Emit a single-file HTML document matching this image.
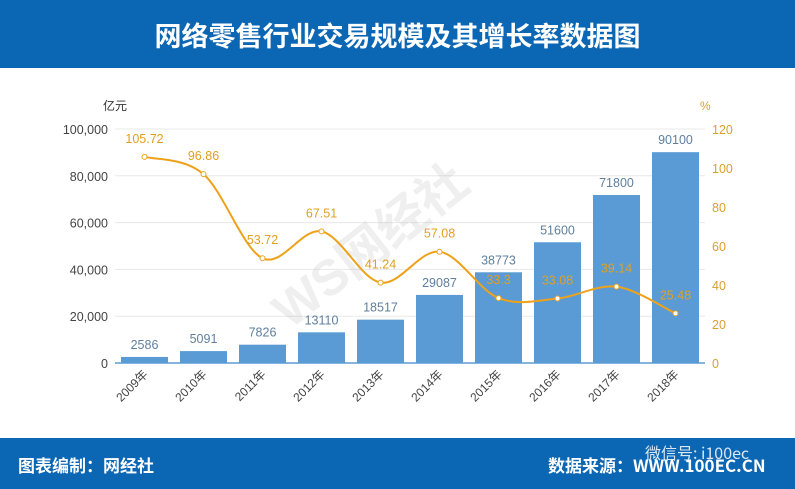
<!DOCTYPE html>
<html><head><meta charset="utf-8">
<style>
body{margin:0;width:795px;height:489px;overflow:hidden;background:#fff;font-family:"Liberation Sans","Noto Sans CJK SC",sans-serif;}
#hdr{position:absolute;left:0;top:0;width:795px;height:68px;background:#0b66b4;color:#fff;font-size:27px;font-weight:bold;text-align:center;line-height:70px;font-family:"Noto Sans CJK SC",sans-serif;}
#ftr{position:absolute;left:0;top:438px;width:795px;height:51px;background:#0b66b4;color:#fff;font-weight:bold;font-size:17px;font-family:"Noto Sans CJK SC",sans-serif;}
</style></head><body>
<div id="hdr">网络零售行业交易规模及其增长率数据图</div>
<svg id="c" width="795" height="489" style="position:absolute;left:0;top:0"></svg>
<div id="ftr">
<span style="position:absolute;left:18px;top:14px">图表编制：网经社</span>
<span style="position:absolute;left:548px;top:14px">数据来源：WWW.100EC.CN</span>
<span style="position:absolute;left:645px;top:2px;font-weight:normal;font-size:16px;opacity:.85">微信号: i100ec</span>
</div>
<script>
const categories=["2009年","2010年","2011年","2012年","2013年","2014年","2015年","2016年","2017年","2018年"];
const scaleValues=[2586,5091,7826,13110,18517,29087,38773,51600,71800,90100];
const growthValues=[105.72,96.86,53.72,67.51,41.24,57.08,33.3,33.08,39.14,25.48];
const leftTicks=[0,20000,40000,60000,80000,100000];
const rightTicks=[0,20,40,60,80,100,120];
const NS="http://www.w3.org/2000/svg";
const svg=document.getElementById('c');
const L=115,R=705,T=129,B=363;
const yL=v=>B-(v/100000)*(B-T);
const yR=v=>B-(v/120)*(B-T);
const bw=(R-L)/categories.length;
const xc=i=>L+bw*(i+0.5);
function mk(t,a,txt){const e=document.createElementNS(NS,t);for(const k in a)e.setAttribute(k,a[k]);if(txt!==undefined)e.textContent=txt;svg.appendChild(e);return e;}
leftTicks.forEach(v=>{
 const g=mk('line',{x1:L,x2:R,y1:yL(v),y2:yL(v),stroke:v?'#e8e8e8':'#5b9bd5','stroke-width':v?1:1.5});
 
 
 const t=mk('text',{x:108,y:yL(v)+5,'text-anchor':'end','font-size':12.5,fill:'#444'},v.toLocaleString('en-US'));
 
 
});
rightTicks.forEach(v=>{
 const t=mk('text',{x:712,y:yR(v)+5,'font-size':12.5,fill:'#d9a030'},String(v));
 
 
});
let u=mk('text',{x:103,y:110,'font-size':12,fill:'#333'},'亿元');


u=mk('text',{x:700,y:110,'font-size':12,fill:'#d9a030'},'%');


const wm=mk('text',{x:290,y:330,'font-size':50,fill:'#aaa','opacity':0.18,'font-weight':'bold',transform:'rotate(-38 290 330)'},'WS网经社');


scaleValues.forEach((v,i)=>{
 const r=mk('rect',{x:xc(i)-23.5,y:yL(v),width:47,height:B-yL(v),fill:'#5b9bd5'});
 
 
 const t=mk('text',{x:xc(i),y:yL(v)-8,'text-anchor':'middle','font-size':12.5,fill:'#5f7f9e'},String(v));
 
 
 const c=mk('text',{x:xc(i)+4,y:B+12,'text-anchor':'end','font-size':12,fill:'#444',transform:`rotate(-45 ${xc(i)+4} ${B+12})`},categories[i]);
 
 
});
const pts=growthValues.map((v,i)=>[xc(i),yR(v)]);
let d=`M${pts[0][0]},${pts[0][1]}`;
for(let i=0;i<pts.length-1;i++){
 const p0=pts[i-1]||pts[i],p1=pts[i],p2=pts[i+1],p3=pts[i+2]||p2;
 const c1=[p1[0]+(p2[0]-p0[0])/6,p1[1]+(p2[1]-p0[1])/6];
 const c2=[p2[0]-(p3[0]-p1[0])/6,p2[1]-(p3[1]-p1[1])/6];
 d+=` C${c1[0]},${c1[1]} ${c2[0]},${c2[1]} ${p2[0]},${p2[1]}`;
}
const ln=mk('path',{d:d,fill:'none',stroke:'#eea21b','stroke-width':2});


growthValues.forEach((v,i)=>{
 const c=mk('circle',{cx:xc(i),cy:yR(v),r:2.5,fill:'#fff',stroke:'#eea21b','stroke-width':1});
 
 
 const t=mk('text',{x:xc(i),y:yR(v)-14,'text-anchor':'middle','font-size':12.5,fill:'#e0a020'},String(v));
 
 
});
</script>
</body></html>
